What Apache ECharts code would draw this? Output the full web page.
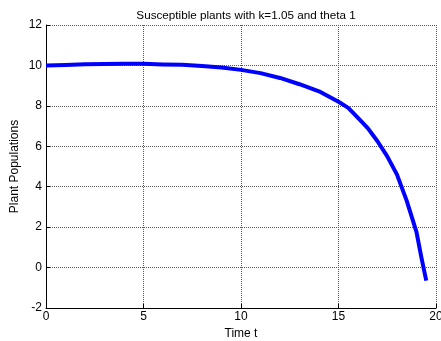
<!DOCTYPE html>
<html>
<head>
<meta charset="utf-8">
<script src="https://cdn.jsdelivr.net/npm/echarts@6/dist/echarts.min.js"></script>
<style>html,body{margin:0;padding:0;background:#fff}#c{width:441px;height:341px}</style>
</head>
<body>
<div id="c"></div>
<script>
const titleText = 'Susceptible plants with k=1.05 and theta 1';
const xName = 'Time t';
const yName = 'Plant Populations';
const timeT = [0, 1, 2, 3, 4, 5, 6, 7, 8, 9, 10, 11, 12, 13, 14, 15, 15.5, 16, 16.5, 17, 17.5, 18, 18.5, 19, 19.25, 19.5];
const plants = [10.0, 10.02, 10.06, 10.07, 10.08, 10.08, 10.05, 10.03, 9.97, 9.9, 9.78, 9.62, 9.38, 9.07, 8.72, 8.2, 7.9, 7.4, 6.9, 6.25, 5.5, 4.6, 3.3, 1.75, 0.5, -0.65];
const xTicks = {min: 0, max: 20, interval: 5};
const yTicks = {min: -2, max: 12, interval: 2};

const chart = echarts.init(document.getElementById('c'), null, {renderer: 'canvas'});
const font = 'Liberation Sans, Arial, sans-serif';
chart.setOption({
  animation: false,
  backgroundColor: '#ffffff',
  title: {
    text: titleText, left: 241, top: 5, textAlign: 'center',
    textStyle: {fontFamily: font, fontSize: 11.7, fontWeight: 'normal', color: '#000'}
  },
  grid: {left: 46, right: 5, top: 25, bottom: 33, containLabel: false, outerBoundsMode: 'none'},
  xAxis: {
    type: 'value', min: xTicks.min, max: xTicks.max, interval: xTicks.interval,
    name: xName, nameLocation: 'middle', nameGap: 20, nameMoveOverlap: false,
    nameTextStyle: {fontFamily: font, fontSize: 12, color: '#000'},
    axisLine: {show: true, onZero: false, lineStyle: {color: '#000', width: 1}},
    axisTick: {show: true, inside: true, length: 4, lineStyle: {color: '#000'}},
    axisLabel: {fontFamily: font, fontSize: 12, color: '#000', margin: 3},
    splitLine: {show: true, lineStyle: {color: '#555', type: [1, 1], width: 1}}
  },
  yAxis: {
    type: 'value', min: yTicks.min, max: yTicks.max, interval: yTicks.interval,
    name: yName, nameLocation: 'middle', nameGap: 25, nameMoveOverlap: false,
    nameTextStyle: {fontFamily: font, fontSize: 12, color: '#000'},
    axisLine: {show: true, onZero: false, lineStyle: {color: '#000', width: 1}},
    axisTick: {show: true, inside: true, length: 4, lineStyle: {color: '#000'}},
    axisLabel: {fontFamily: font, fontSize: 12, color: '#000', margin: 4},
    splitLine: {show: true, lineStyle: {color: '#555', type: [1, 1], width: 1}}
  },
  series: [{
    type: 'line',
    data: timeT.map((t, i) => [t, plants[i]]),
    showSymbol: false,
    smooth: false,
    lineStyle: {color: '#0000ff', width: 4, cap: 'butt', join: 'round'},
    itemStyle: {color: '#0000ff'}
  }]
});
</script>
</body>
</html>
